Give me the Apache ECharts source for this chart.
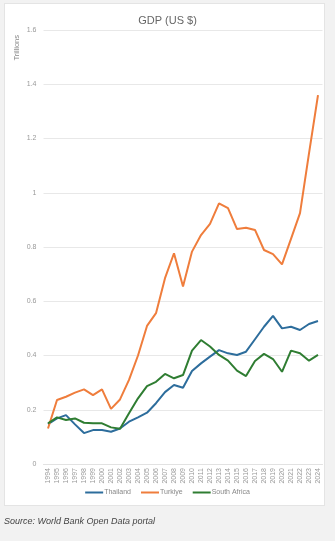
<!DOCTYPE html>
<html>
<head>
<meta charset="utf-8">
<script src="https://cdn.jsdelivr.net/npm/echarts@6/dist/echarts.min.js"></script>
<style>
  html, body { margin: 0; padding: 0; background: #f2f2f2; width: 335px; height: 541px; overflow: hidden; }
  #card { position: absolute; left: 4px; top: 3px; width: 321px; height: 503px; background: #fff; border: 1px solid #e4e4e4; box-sizing: border-box; }
  #chart { position: absolute; left: 0; top: 0; width: 335px; height: 541px; }
  #source { position: absolute; left: 4px; top: 516px; font: italic 9px "Liberation Sans", Arial, sans-serif; color: #444; }
</style>
</head>
<body>
<div id="card"></div>
<div id="chart"></div>
<div id="source">Source: World Bank Open Data portal</div>
<script>
// GDP in current US$, trillions
const years = ['1994','1995','1996','1997','1998','1999','2000','2001','2002','2003','2004','2005','2006','2007','2008','2009','2010','2011','2012','2013','2014','2015','2016','2017','2018','2019','2020','2021','2022','2023','2024'];
const thailand = [0.147,0.168,0.180,0.146,0.114,0.125,0.125,0.119,0.131,0.156,0.172,0.189,0.224,0.265,0.291,0.281,0.343,0.371,0.396,0.420,0.408,0.402,0.414,0.460,0.506,0.546,0.500,0.506,0.494,0.516,0.527];
const turkiye = [0.131,0.236,0.248,0.263,0.275,0.254,0.275,0.203,0.238,0.310,0.400,0.509,0.556,0.685,0.777,0.654,0.783,0.844,0.885,0.961,0.943,0.866,0.871,0.863,0.789,0.774,0.736,0.830,0.925,1.145,1.360];
const southAfrica = [0.150,0.172,0.162,0.168,0.152,0.150,0.150,0.135,0.130,0.187,0.242,0.287,0.303,0.332,0.316,0.328,0.418,0.457,0.433,0.402,0.381,0.344,0.324,0.380,0.406,0.387,0.340,0.418,0.408,0.381,0.402];
const yTicks = { min: 0, max: 1.6, interval: 0.2 };

const FONT = '"Liberation Sans", Arial, sans-serif';
const chart = echarts.init(document.getElementById('chart'), null, { renderer: 'canvas' });

function lineSeries(name, data, color) {
  return {
    name, type: 'line', data,
    symbol: 'none',
    lineStyle: { width: 2, color },
    itemStyle: { color },
    emphasis: { disabled: true }
  };
}

chart.setOption({
  animation: false,
  backgroundColor: 'transparent',
  textStyle: { fontFamily: FONT },
  title: {
    text: 'GDP (US $)',
    left: 'center', top: 10,
    textStyle: { fontSize: 11, fontWeight: 'normal', color: '#666', fontFamily: FONT }
  },
  graphic: [{
    type: 'text',
    left: 13, top: 35,
    rotation: Math.PI / 2,
    style: { text: 'Trillions', fontSize: 7.5, fill: '#888', fontFamily: FONT }
  }],
  legend: {
    bottom: 40, left: 'center',
    icon: 'rect', itemWidth: 18, itemHeight: 2, itemGap: 10,
    textStyle: { fontSize: 7, color: '#888', padding: [0, 0, 0, -4] },
    data: ['Thailand', 'Turkiye', 'South Africa']
  },
  grid: { left: 43.5, right: 12.5, top: 30, bottom: 77, containLabel: false },
  xAxis: {
    type: 'category',
    data: years,
    boundaryGap: true,
    axisLine: { show: true, lineStyle: { color: '#e2e2e2' } },
    axisTick: { show: false },
    axisLabel: { rotate: 90, interval: 0, fontSize: 7, color: '#999', margin: 4 }
  },
  yAxis: {
    type: 'value',
    min: yTicks.min, max: yTicks.max, interval: yTicks.interval,
    axisLine: { show: false },
    axisTick: { show: false },
    splitLine: { lineStyle: { color: '#e8e8e8' } },
    axisLabel: {
      fontSize: 7, color: '#999', margin: 7,
      formatter: v => String(Math.round(v * 10) / 10)
    }
  },
  series: [
    lineSeries('Thailand', thailand, '#2d6d9c'),
    lineSeries('Turkiye', turkiye, '#ef7d3c'),
    lineSeries('South Africa', southAfrica, '#2f7d32')
  ]
});
</script>
</body>
</html>
